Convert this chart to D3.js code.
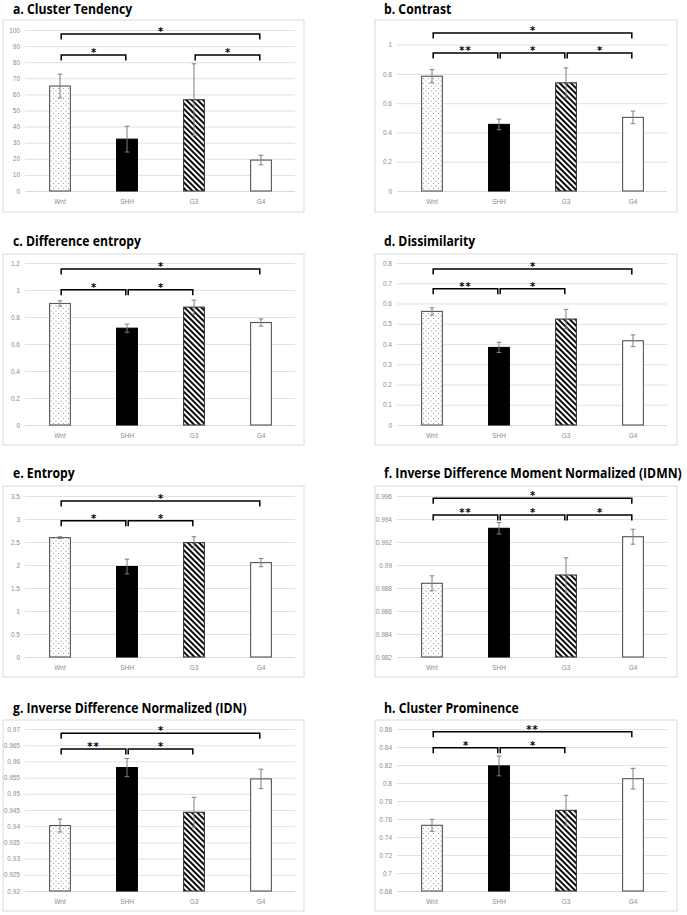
<!DOCTYPE html>
<html><head><meta charset="utf-8">
<script src="https://cdn.jsdelivr.net/npm/d3@7"></script>
<style>body{margin:0;background:#fff}</style>
</head><body><svg id="c" width="687" height="915"></svg>
<script>
const groups = ["Wnt", "SHH", "G3", "G4"];
const titles = ["a. Cluster Tendency", "b. Contrast", "c. Difference entropy", "d. Dissimilarity",
  "e. Entropy", "f. Inverse Difference Moment Normalized (IDMN)", "g. Inverse Difference Normalized (IDN)", "h. Cluster Prominence"];

// a
const clusterTendencyMean = [65.2, 32.2, 56.7, 19.2];
const clusterTendencyErr = [7.4, 8.0, 22.3, 3.0];
const clusterTendencyDomain = [0, 100];
const clusterTendencyTicks = [0, 10, 20, 30, 40, 50, 60, 70, 80, 90, 100];
const clusterTendencyBrackets = [[0, 3, "*", 97.5], [0, 1, "*", 84.5], [2, 3, "*", 84.5]];
// b
const contrastMean = [0.784, 0.455, 0.739, 0.503];
const contrastErr = [0.045, 0.036, 0.102, 0.043];
const contrastDomain = [0, 1.1];
const contrastTicks = [0, 0.2, 0.4, 0.6, 0.8, 1];
const contrastBrackets = [[0, 3, "*", 1.08], [0, 1, "**", 0.943], [1, 2, "*", 0.943], [2, 3, "*", 0.943]];
// c
const diffEntropyMean = [0.900, 0.717, 0.873, 0.759];
const diffEntropyErr = [0.020, 0.030, 0.052, 0.027];
const diffEntropyDomain = [0, 1.2];
const diffEntropyTicks = [0, 0.2, 0.4, 0.6, 0.8, 1, 1.2];
const diffEntropyBrackets = [[0, 3, "*", 1.156], [0, 1, "*", 1.002], [1, 2, "*", 1.002]];
// d
const dissimilarityMean = [0.561, 0.383, 0.523, 0.416];
const dissimilarityErr = [0.018, 0.025, 0.048, 0.029];
const dissimilarityDomain = [0, 0.8];
const dissimilarityTicks = [0, 0.1, 0.2, 0.3, 0.4, 0.5, 0.6, 0.7, 0.8];
const dissimilarityBrackets = [[0, 3, "*", 0.770], [0, 1, "**", 0.673], [1, 2, "*", 0.673]];
// e
const entropyMean = [2.595, 1.966, 2.486, 2.052];
const entropyErr = [0.02, 0.16, 0.13, 0.09];
const entropyDomain = [0, 3.5];
const entropyTicks = [0, 0.5, 1, 1.5, 2, 2.5, 3, 3.5];
const entropyBrackets = [[0, 3, "*", 3.39], [0, 1, "*", 2.96], [1, 2, "*", 2.96]];
// f
const idmnMean = [0.98841, 0.99319, 0.98913, 0.99246];
const idmnErr = [0.00065, 0.0005, 0.0015, 0.00065];
const idmnDomain = [0.982, 0.996];
const idmnTicks = [0.982, 0.984, 0.986, 0.988, 0.99, 0.992, 0.994, 0.996];
const idmnBrackets = [[0, 3, "*", 0.9958], [0, 1, "**", 0.99435], [1, 2, "*", 0.99435], [2, 3, "*", 0.99435]];
// g
const idnMean = [0.9402, 0.9581, 0.9443, 0.9546];
const idnErr = [0.002, 0.0028, 0.0046, 0.003];
const idnDomain = [0.92, 0.97];
const idnTicks = [0.92, 0.925, 0.93, 0.935, 0.94, 0.945, 0.95, 0.955, 0.96, 0.965, 0.97];
const idnBrackets = [[0, 3, "*", 0.9687], [0, 1, "**", 0.9638], [1, 2, "*", 0.9638]];
// h
const prominenceMean = [0.753, 0.819, 0.7696, 0.8048];
const prominenceErr = [0.0067, 0.011, 0.0167, 0.0115];
const prominenceDomain = [0.68, 0.86];
const prominenceTicks = [0.68, 0.7, 0.72, 0.74, 0.76, 0.78, 0.8, 0.82, 0.84, 0.86];
const prominenceBrackets = [[0, 3, "**", 0.857], [0, 1, "*", 0.8392], [1, 2, "*", 0.8392]];

const panels = [
  [clusterTendencyMean, clusterTendencyErr, clusterTendencyDomain, clusterTendencyTicks, clusterTendencyBrackets],
  [contrastMean, contrastErr, contrastDomain, contrastTicks, contrastBrackets],
  [diffEntropyMean, diffEntropyErr, diffEntropyDomain, diffEntropyTicks, diffEntropyBrackets],
  [dissimilarityMean, dissimilarityErr, dissimilarityDomain, dissimilarityTicks, dissimilarityBrackets],
  [entropyMean, entropyErr, entropyDomain, entropyTicks, entropyBrackets],
  [idmnMean, idmnErr, idmnDomain, idmnTicks, idmnBrackets],
  [idnMean, idnErr, idnDomain, idnTicks, idnBrackets],
  [prominenceMean, prominenceErr, prominenceDomain, prominenceTicks, prominenceBrackets]
].map((p, i) => ({title: titles[i], mean: p[0], err: p[1], domain: p[2], ticks: p[3], brackets: p[4]}));

// layout
const colFrameX = [3, 375], colFrameW = [301, 302];
const colPlotX = [[25, 295], [397, 667]];
const colTitleX = [13, 384];
const rowFrameY = [[20, 212], [254, 445], [486, 677], [720, 911]];
const rowPlotY = [[191, 30], [425, 263], [657, 496], [891, 729]];
const rowTitleY = [13.5, 245.5, 478, 712.5];

const svg = d3.select("#c");
const defs = svg.append("defs");
const dots = defs.append("pattern").attr("id", "dots").attr("patternUnits", "userSpaceOnUse")
  .attr("width", 5).attr("height", 5);
dots.append("rect").attr("width", 5).attr("height", 5).attr("fill", "#fff");
dots.append("circle").attr("cx", 1).attr("cy", 1).attr("r", 0.55).attr("fill", "#8a8a8a");
dots.append("circle").attr("cx", 3.5).attr("cy", 3.5).attr("r", 0.55).attr("fill", "#8a8a8a");
const hatch = defs.append("pattern").attr("id", "hatch").attr("patternUnits", "userSpaceOnUse")
  .attr("width", 4).attr("height", 4).attr("patternTransform", "rotate(-45)");
hatch.append("rect").attr("width", 4).attr("height", 4).attr("fill", "#fff");
hatch.append("line").attr("x1", 1).attr("x2", 1).attr("y1", 0).attr("y2", 4)
  .attr("stroke", "#000").attr("stroke-width", 1.9);

const fills = ["url(#dots)", "#000", "url(#hatch)", "#fff"];
const strokes = ["#555", "#000", "#333", "#555"];
const fmt = d => String(+d.toFixed(6));

const titleGroups = [];
panels.forEach((p, i) => {
  const col = i % 2, row = Math.floor(i / 2);
  const g = svg.append("g");
  g.append("rect").attr("x", colFrameX[col]).attr("y", rowFrameY[row][0])
    .attr("width", colFrameW[col]).attr("height", rowFrameY[row][1] - rowFrameY[row][0])
    .attr("fill", "#fff").attr("stroke", "#d9d9d9").attr("stroke-width", 1);
  const tg = g.append("g").datum([colTitleX[col], rowTitleY[row]]);
  tg.append("text").attr("x", 0).attr("y", 0)
    .attr("font-family", "'Open Sans', sans-serif").attr("font-weight", 700).attr("font-size", 13.5)
    .attr("fill", "#000").text(p.title);
  titleGroups.push(tg);

  const [px0, px1] = colPlotX[col];
  const y = d3.scaleLinear().domain(p.domain).range(rowPlotY[row]);
  const x = d3.scaleBand().domain(groups).range([px0 + 1.5, px1 - 0.5]).paddingInner(0.69).paddingOuter(0.345);

  const ax = g.append("g").attr("transform", `translate(${px0},0)`)
    .call(d3.axisLeft(y).tickValues(p.ticks).tickSize(-(px1 - px0)).tickPadding(5).tickFormat(fmt));
  ax.select(".domain").remove();
  ax.selectAll(".tick line").attr("stroke", "#d9d9d9").attr("stroke-width", 0.8);
  ax.selectAll(".tick text").attr("fill", "#8c8c8c").attr("font-size", 6.5)
    .attr("font-family", "'Liberation Sans', Arial, sans-serif");

  const xa = g.append("g").attr("transform", `translate(0,${rowPlotY[row][0]})`)
    .call(d3.axisBottom(x).tickSize(0).tickPadding(8));
  xa.select(".domain").attr("stroke", "#d9d9d9");
  xa.selectAll(".tick text").attr("fill", "#8c8c8c").attr("font-size", 6.5)
    .attr("font-family", "'Liberation Sans', Arial, sans-serif");

  const base = y(p.domain[0]);
  g.selectAll(".bar").data(p.mean).join("rect")
    .attr("x", (d, j) => x(groups[j])).attr("width", x.bandwidth())
    .attr("y", d => y(d)).attr("height", d => base - y(d))
    .attr("fill", (d, j) => fills[j]).attr("stroke", (d, j) => strokes[j]).attr("stroke-width", 1.1);

  const eb = g.selectAll(".eb").data(p.mean).join("g")
    .attr("transform", (d, j) => `translate(${x(groups[j]) + x.bandwidth() / 2},0)`);
  eb.append("line").attr("y1", (d, j) => y(d - p.err[j])).attr("y2", (d, j) => y(d + p.err[j]))
    .attr("stroke", "#7f7f7f").attr("stroke-width", 1);
  eb.append("line").attr("x1", -2.3).attr("x2", 2.3).attr("y1", (d, j) => y(d + p.err[j])).attr("y2", (d, j) => y(d + p.err[j]))
    .attr("stroke", "#7f7f7f").attr("stroke-width", 1);
  eb.append("line").attr("x1", -2.3).attr("x2", 2.3).attr("y1", (d, j) => y(d - p.err[j])).attr("y2", (d, j) => y(d - p.err[j]))
    .attr("stroke", "#7f7f7f").attr("stroke-width", 1);

  const cx = j => x(groups[j]) + x.bandwidth() / 2;
  const br = g.selectAll(".br").data(p.brackets).join("g");
  br.append("path").attr("fill", "none").attr("stroke", "#000").attr("stroke-width", 1.5)
    .attr("d", b => {
      const xa0 = cx(b[0]) + 1.2, xa1 = cx(b[1]) - 1.2, yy = y(b[3]);
      return `M${xa0},${yy + 5.5}V${yy}H${xa1}V${yy + 5.5}`;
    });
  br.append("text").attr("x", b => (cx(b[0]) + cx(b[1])) / 2).attr("y", b => y(b[3]) + 1)
    .attr("text-anchor", "middle").attr("font-family", "'DejaVu Sans', sans-serif").attr("font-weight", 700)
    .attr("font-size", 10).attr("letter-spacing", b => b[2].length > 1 ? 1 : 0).text(b => b[2]);
});

// condense titles horizontally to a Calibri-like width
const fw = titleGroups[5].select("text").node().getComputedTextLength();
const k = 298 / fw;
titleGroups.forEach(tg => {
  const [tx, ty] = tg.datum();
  tg.attr("transform", `translate(${tx},${ty}) scale(${k},1)`);
});
</script></body></html>
